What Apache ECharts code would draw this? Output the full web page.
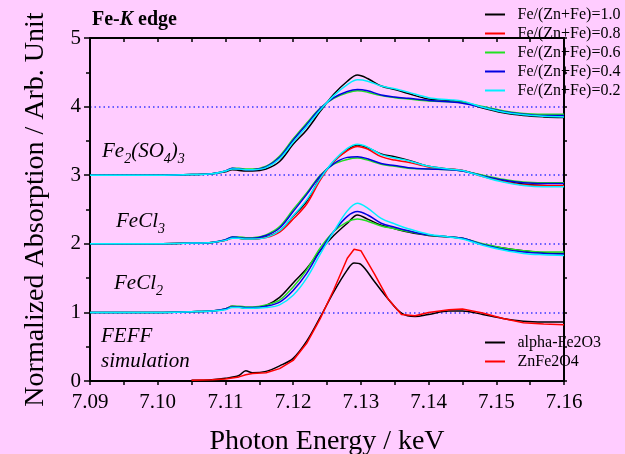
<!DOCTYPE html>
<html><head><meta charset="utf-8">
<script src="https://cdn.jsdelivr.net/npm/echarts@6/dist/echarts.min.js"></script>
<style>html,body{margin:0;padding:0;background:#ffccff}.layer{position:absolute;left:0;top:0;width:625px;height:454px}#s,#t{pointer-events:none}</style>
</head><body><div id="a" class="layer"></div><div id="s" class="layer"></div><div id="t" class="layer"></div><script>
// Photon energy grid (keV) for the measured spectra
const energy = [7.090,7.100,7.105,7.108,7.110,7.111,7.112,7.113,7.114,7.116,7.118,7.120,7.122,7.124,7.126,7.128,7.1295,7.131,7.133,7.135,7.137,7.140,7.143,7.145,7.148,7.151,7.154,7.157,7.160];

// Upper set (offset 3)
const set3_r10 = [3.00,3.00,3.01,3.02,3.05,3.08,3.07,3.06,3.06,3.09,3.20,3.45,3.66,3.93,4.18,4.37,4.46,4.41,4.30,4.25,4.19,4.11,4.09,4.07,3.98,3.91,3.87,3.85,3.84];
const set3_r06 = [3.00,3.00,3.01,3.02,3.06,3.10,3.10,3.09,3.09,3.13,3.28,3.53,3.76,3.98,4.12,4.20,4.23,4.21,4.16,4.13,4.11,4.08,4.07,4.06,4.00,3.94,3.90,3.89,3.89];
const set3_r04 = [3.00,3.00,3.01,3.02,3.06,3.10,3.09,3.08,3.08,3.12,3.26,3.51,3.74,3.97,4.13,4.22,4.25,4.23,4.17,4.14,4.12,4.09,4.07,4.05,3.99,3.93,3.89,3.87,3.87];
const set3_r02 = [3.00,3.00,3.01,3.02,3.06,3.09,3.09,3.08,3.08,3.11,3.24,3.48,3.71,3.95,4.16,4.32,4.39,4.37,4.30,4.26,4.21,4.13,4.10,4.08,3.99,3.92,3.88,3.86,3.85];

// Middle set (offset 2)
const set2_r10 = [2.00,2.00,2.01,2.02,2.05,2.09,2.08,2.07,2.07,2.10,2.19,2.40,2.62,2.96,3.20,3.37,3.44,3.40,3.31,3.27,3.22,3.13,3.09,3.07,2.99,2.92,2.87,2.85,2.84];
const set2_r08 = [2.00,2.00,2.01,2.02,2.05,2.08,2.08,2.07,2.07,2.09,2.17,2.36,2.58,2.93,3.20,3.36,3.42,3.38,3.27,3.22,3.19,3.12,3.09,3.07,2.98,2.91,2.86,2.85,2.85];
const set2_r06 = [2.00,2.00,2.01,2.02,2.06,2.10,2.10,2.09,2.09,2.13,2.25,2.50,2.74,3.00,3.16,3.23,3.25,3.22,3.16,3.13,3.10,3.09,3.08,3.06,3.00,2.94,2.90,2.89,2.89];
const set2_r04 = [2.00,2.00,2.01,2.02,2.06,2.10,2.09,2.08,2.08,2.12,2.23,2.47,2.72,2.99,3.17,3.26,3.27,3.24,3.17,3.14,3.11,3.09,3.08,3.06,2.99,2.93,2.89,2.88,2.88];
const set2_r02 = [2.00,2.00,2.01,2.02,2.05,2.08,2.08,2.07,2.07,2.09,2.19,2.41,2.64,2.95,3.21,3.39,3.45,3.41,3.30,3.25,3.21,3.13,3.09,3.07,2.98,2.90,2.85,2.83,2.83];

// Lower set (offset 1)
const set1_r10 = [1.00,1.00,1.01,1.02,1.05,1.09,1.08,1.06,1.06,1.10,1.22,1.43,1.64,1.90,2.12,2.30,2.42,2.36,2.27,2.22,2.17,2.12,2.10,2.08,1.99,1.94,1.90,1.87,1.86];
const set1_r06 = [1.00,1.00,1.01,1.02,1.05,1.09,1.09,1.08,1.08,1.11,1.18,1.37,1.62,1.94,2.18,2.32,2.36,2.33,2.26,2.22,2.18,2.13,2.10,2.08,2.00,1.94,1.90,1.88,1.88];
const set1_r04 = [1.00,1.00,1.01,1.02,1.05,1.08,1.08,1.07,1.07,1.09,1.15,1.32,1.57,1.90,2.18,2.40,2.47,2.42,2.30,2.24,2.19,2.13,2.10,2.08,1.99,1.92,1.88,1.86,1.85];
const set1_r02 = [1.00,1.00,1.01,1.02,1.04,1.07,1.07,1.06,1.06,1.07,1.11,1.25,1.50,1.85,2.18,2.48,2.59,2.52,2.37,2.29,2.22,2.14,2.10,2.07,1.98,1.91,1.86,1.84,1.83];

// FEFF simulation
const feffEnergy = [7.105,7.108,7.110,7.112,7.113,7.114,7.116,7.118,7.120,7.122,7.124,7.126,7.128,7.129,7.130,7.132,7.134,7.136,7.138,7.140,7.143,7.145,7.148,7.151,7.154,7.157,7.160];
const feffAlphaFe2O3 = [0.01,0.02,0.04,0.08,0.15,0.12,0.14,0.22,0.33,0.58,0.93,1.30,1.62,1.72,1.70,1.45,1.20,0.99,0.94,0.97,1.02,1.02,0.97,0.91,0.87,0.86,0.86];
const feffZnFe2O4 = [0.01,0.02,0.03,0.06,0.09,0.11,0.12,0.18,0.30,0.55,0.91,1.33,1.79,1.92,1.90,1.56,1.20,0.97,0.95,1.00,1.04,1.05,0.99,0.91,0.85,0.83,0.82];

const ratioNames = ['Fe/(Zn+Fe)=1.0','Fe/(Zn+Fe)=0.8','Fe/(Zn+Fe)=0.6','Fe/(Zn+Fe)=0.4','Fe/(Zn+Fe)=0.2'];
const feffNames = ['alpha-Fe2O3','ZnFe2O4'];

const COL = {'Fe/(Zn+Fe)=1.0':'#000000','Fe/(Zn+Fe)=0.8':'#ff0000','Fe/(Zn+Fe)=0.6':'#22e022','Fe/(Zn+Fe)=0.4':'#0000e0','Fe/(Zn+Fe)=0.2':'#00f0ff','alpha-Fe2O3':'#000000','ZnFe2O4':'#ff0000'};
const FONT = '"Liberation Serif","Times New Roman",serif';
const GRID = {left:90, right:61, top:38, bottom:73, outerBoundsMode:'none'};
const XMIN = 7.09, XMAX = 7.16, YMIN = 0, YMAX = 5;

function pts(xs, ys){ return xs.map((x,i)=>[x, ys[i]]); }
function mk(name, xs, ys, smooth){
  return {type:'line', name, data:pts(xs,ys), symbol:'none', smooth: smooth ? 0.35 : false,
    lineStyle:{color:COL[name], width:1.5}, itemStyle:{color:COL[name]}};
}
const series = [];
const sets = [
  [set3_r10,null,set3_r06,set3_r04,set3_r02],
  [set2_r10,set2_r08,set2_r06,set2_r04,set2_r02],
  [set1_r10,null,set1_r06,set1_r04,set1_r02]
];
sets.forEach(s=>s.forEach((arr,i)=>{ if(arr) series.push(mk(ratioNames[i], energy, arr, true)); }));
series.push(mk(feffNames[0], feffEnergy, feffAlphaFe2O3, true));
series.push(mk(feffNames[1], feffEnergy, feffZnFe2O4, false));

function aLine(){ return {show:true, onZero:false, lineStyle:{color:'#000000', width:2}}; }
function aTick(inside, len){ return {show:true, inside, length:len, lineStyle:{color:'#000000', width:1.5}}; }
function flush(c){ try { c.getZr().refreshImmediately(); } catch (e) {} }

// Layer 1: axes, ticks, dotted reference lines
const axes = echarts.init(document.getElementById('a'), null, {renderer:'canvas'});
axes.setOption({
  backgroundColor:'#ffccff', animation:false, textStyle:{fontFamily:FONT},
  grid:GRID,
  xAxis:[
    {type:'value', position:'bottom', min:XMIN, max:XMAX, interval:0.01, axisLine:aLine(), axisTick:aTick(false,4),
     minorTick:{show:true, splitNumber:2, length:4, lineStyle:{width:1.5,color:'#000000'}},
     axisLabel:{show:true, color:'#000', fontSize:21, fontFamily:FONT, margin:11, formatter:v=>v.toFixed(2)},
     splitLine:{show:false}, name:'Photon Energy / keV', nameLocation:'middle', nameGap:47,
     nameTextStyle:{fontSize:28, fontFamily:FONT, color:'#000'}},
    {type:'value', position:'top', min:XMIN, max:XMAX, interval:0.005, axisLine:aLine(), axisTick:aTick(true,4),
     axisLabel:{show:false}, splitLine:{show:false}}
  ],
  yAxis:[
    {type:'value', position:'left', min:YMIN, max:YMAX, interval:1, axisLine:aLine(), axisTick:aTick(false,6),
     minorTick:{show:true, splitNumber:2, length:4, lineStyle:{width:1.5,color:'#000000'}},
     axisLabel:{show:true, color:'#000', fontSize:21, fontFamily:FONT, margin:9},
     splitLine:{show:true, lineStyle:{color:'#3838ff', width:1.5, type:[1.5,3]}},
     name:'Normalized Absorption / Arb. Unit', nameLocation:'middle', nameGap:40,
     nameTextStyle:{fontSize:28, fontFamily:FONT, color:'#000'}},
    {type:'value', position:'right', min:YMIN, max:YMAX, interval:0.5, axisLine:aLine(), axisTick:aTick(false,3),
     axisLabel:{show:false}, splitLine:{show:false}}
  ],
  series:[{type:'line', data:[], symbol:'none'}]
});
flush(axes);

// Layer 2: the spectra, on hidden axes with the same scales
const lines = echarts.init(document.getElementById('s'), null, {renderer:'canvas'});
lines.setOption({
  backgroundColor:'transparent', animation:false,
  grid:GRID,
  xAxis:{type:'value', min:XMIN, max:XMAX, show:false},
  yAxis:{type:'value', min:YMIN, max:YMAX, show:false},
  series
});
flush(lines);

// Layer 3: legends and annotations
const txt = echarts.init(document.getElementById('t'), null, {renderer:'canvas'});
const subRich = {
  m:{fontSize:21, fontStyle:'italic', fontFamily:FONT, fill:'#000', lineHeight:30},
  s:{fontSize:14, fontStyle:'italic', fontFamily:FONT, fill:'#000', verticalAlign:'bottom', lineHeight:30}
};
txt.setOption({
  backgroundColor:'transparent', animation:false, textStyle:{fontFamily:FONT},
  grid:GRID,
  xAxis:{type:'value', min:XMIN, max:XMAX, show:false},
  yAxis:{type:'value', min:YMIN, max:YMAX, show:false},
  legend:[
    {data:ratioNames, orient:'vertical', left:480, top:0, width:145, itemWidth:35, itemHeight:2, itemGap:0,
     icon:'path://M0 0H10V1H0Z',
     textStyle:{fontSize:16, fontFamily:FONT, color:'#000', lineHeight:19, overflow:'none'}, selectedMode:false},
    {data:feffNames, orient:'vertical', left:480, top:328, width:145, itemWidth:35, itemHeight:2, itemGap:0,
     icon:'path://M0 0H10V1H0Z',
     textStyle:{fontSize:16, fontFamily:FONT, color:'#000', lineHeight:19, overflow:'none'}, selectedMode:false}
  ],
  graphic:[
    {type:'text', left:92, top:10, style:{text:'{b|Fe-}{i|K}{b| edge}', rich:{
      b:{fontSize:20, fontWeight:'bold', fontFamily:FONT, fill:'#000'},
      i:{fontSize:20, fontWeight:'bold', fontStyle:'italic', fontFamily:FONT, fill:'#000'}}}},
    {type:'text', left:102, top:141, style:{text:'{m|Fe}{s|2}{m|(SO}{s|4}{m|)}{s|3}', rich:subRich}},
    {type:'text', left:116, top:211, style:{text:'{m|FeCl}{s|3}', rich:subRich}},
    {type:'text', left:114, top:273, style:{text:'{m|FeCl}{s|2}', rich:subRich}},
    {type:'text', left:101, top:324, style:{text:'FEFF\nsimulation', fontSize:21, fontStyle:'italic', fontFamily:FONT, fill:'#000', lineHeight:25}}
  ],
  series: ratioNames.concat(feffNames).map(n=>({type:'line', name:n, data:[], symbol:'none',
    lineStyle:{color:COL[n], width:1.5}, itemStyle:{color:COL[n]}}))
});
flush(txt);
</script></body></html>
